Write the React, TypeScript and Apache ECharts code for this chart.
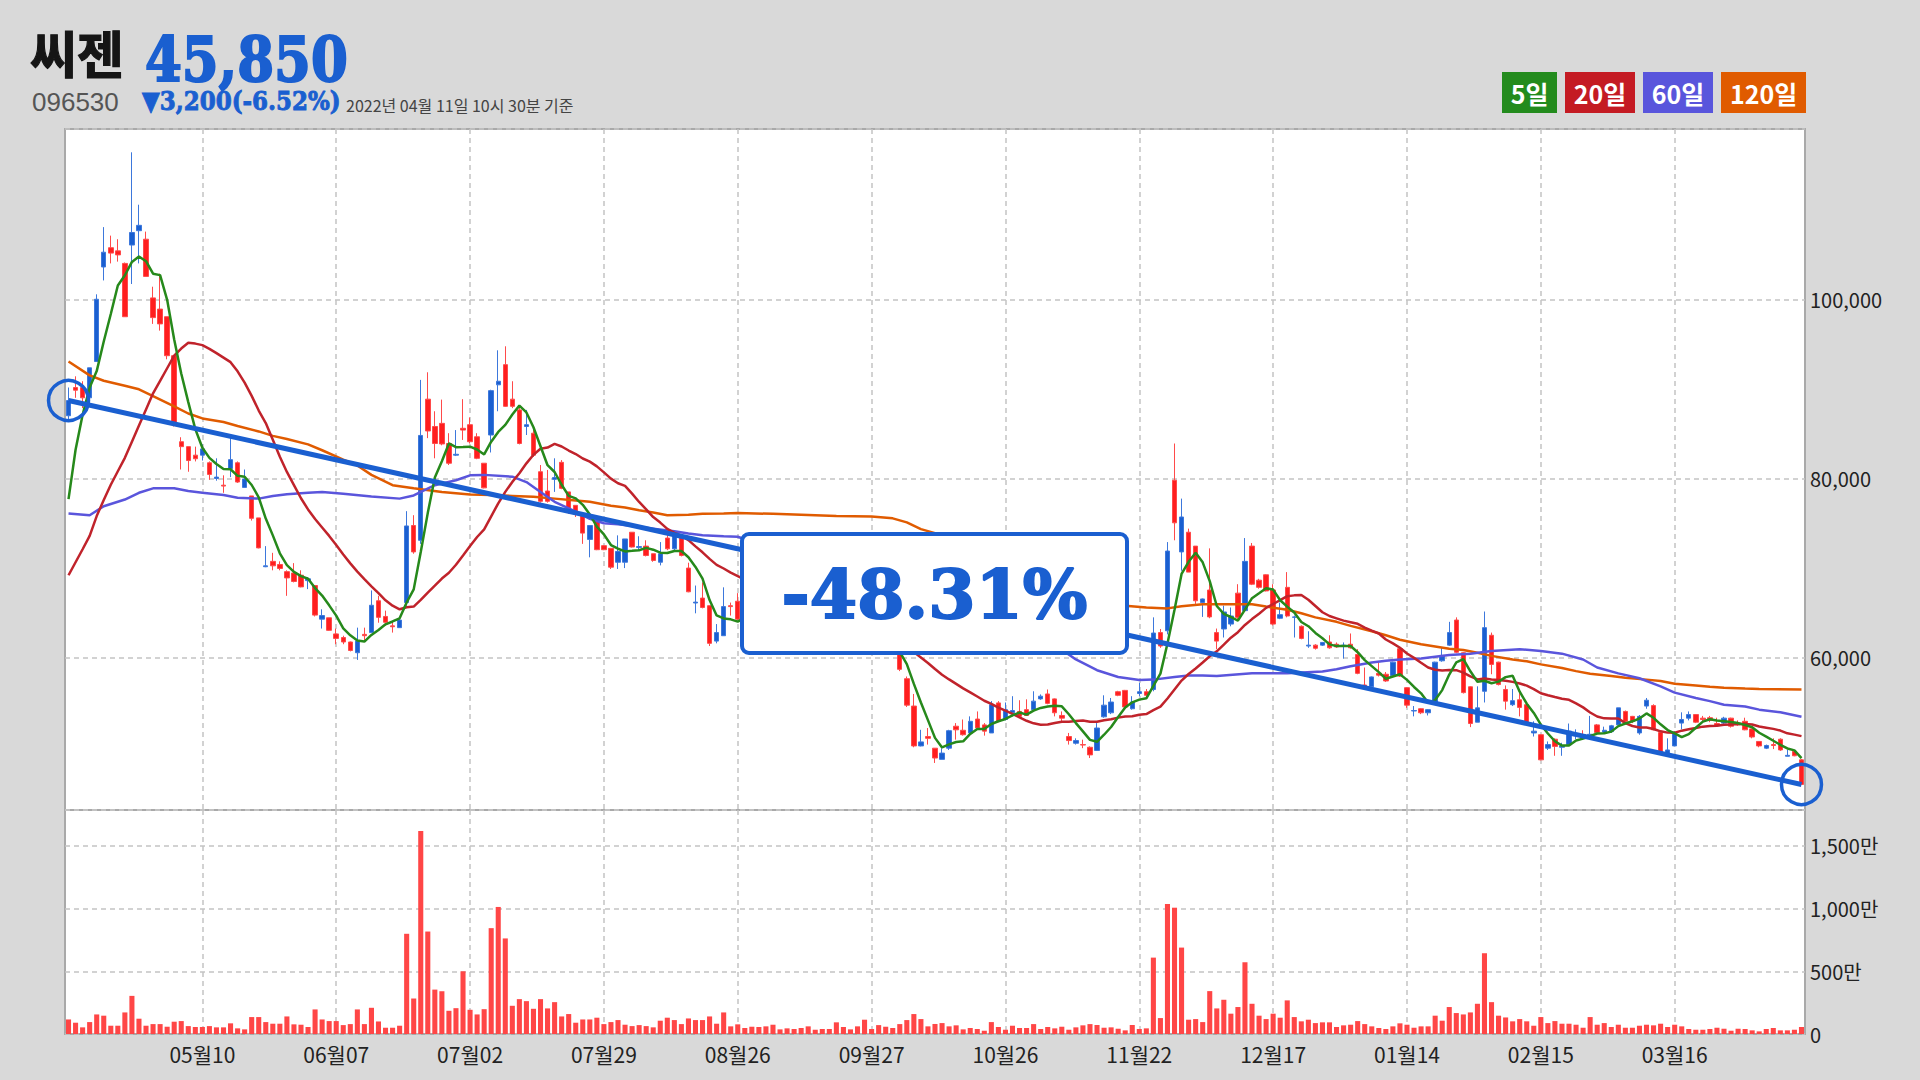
import React, { useEffect, useRef } from 'react';
import * as echarts from 'echarts';

// ---- tick labels (one every 19 trading days) ----
const TICK_STEP = 19;
const tickLabels = ['05월10', '06월07', '07월02', '07월29', '08월26', '09월27', '10월26', '11월22', '12월17', '01월14', '02월15', '03월16'];

// ---- daily OHLC (원) ----
const opens = [
  87000, 90150, 90150, 89000, 93050, 103600, 105750, 105400, 104000, 106050,
  107650, 106700, 100150, 98900, 98050, 93700, 84100, 83550, 82600, 82600,
  81750, 80000, 79250, 81100, 81750, 79000, 78050, 75600, 70150, 70750,
  70400, 69600, 69450, 69200, 68600, 68050, 64300, 64450, 62650, 62250,
  61750, 60550, 62600, 62800, 66350, 64600, 63550, 63350, 66150, 74750,
  73100, 88850, 85800, 86150, 83900, 82600, 85600, 86000, 84650, 81700,
  84850, 90450, 92700, 88850, 87650, 85800, 85050, 80750, 78600, 79900,
  81800, 78500, 77000, 76050, 73200, 75350, 72500, 72200, 70650, 70650,
  74000, 72300, 72450, 71600, 70650, 73350, 72150, 73550, 70000, 66100,
  66650, 65800, 61850, 62450, 65800, 66300, 64300, 63800, 64500, 63600,
  63900, 63200, 62700, 63100, 62400, 62000, 62300, 61800, 61500, 61900,
  61400, 61200, 61600, 61300, 61100, 61500, 61200, 61000, 60550, 57650,
  54600, 50150, 51200, 49900, 48650, 49900, 52350, 51900, 51600, 53150,
  52500, 51600, 54950, 53100, 53850, 54000, 54200, 54200, 55400, 55950,
  55400, 53550, 51200, 50450, 50300, 50000, 49650, 53400, 53850, 56200,
  56350, 54300, 56000, 56200, 56450, 62800, 63000, 79800, 71800, 74000,
  72450, 66150, 67550, 62800, 63200, 63750, 67200, 65250, 72450, 68650,
  69250, 67550, 64400, 67850, 64500, 63500, 61300, 61400, 61400, 61750,
  61500, 61350, 61500, 60350, 56950, 56750, 58250, 58150, 58000, 61000,
  56650, 54050, 54300, 53850, 55050, 59650, 61400, 64200, 60550, 56750,
  52800, 56250, 62500, 59500, 56450, 54750, 55300, 54750, 51600, 51400,
  49900, 50900, 50000, 50300, 51300, 51400, 51300, 52500, 51700, 51750,
  52500, 54000, 53450, 51600, 54600, 54650, 51650, 49300, 50150, 52700,
  53250, 53650, 53250, 53300, 52650, 52700, 53250, 52700, 52900, 52050,
  50650, 49900, 50300, 50900, 49000, 49550, 48600,
];
const closes = [
  88700, 89850, 89000, 92350, 100000, 105250, 105150, 104950, 98050, 107450,
  108250, 102550, 97950, 97250, 93700, 86100, 83550, 82000, 82200, 83300,
  80450, 80150, 79150, 82100, 79600, 79950, 75550, 72250, 70250, 70250,
  69950, 68900, 68500, 67900, 68800, 64750, 64700, 63050, 62150, 61750,
  60800, 61850, 62450, 65850, 64500, 63950, 63450, 64200, 74700, 71800,
  84800, 85300, 83900, 83850, 81700, 82700, 85400, 84100, 82250, 78950,
  89800, 90850, 88050, 88050, 83900, 86000, 82600, 77450, 77450, 80100,
  78900, 76350, 76050, 73900, 74750, 72050, 72050, 70100, 71850, 73250,
  72350, 72400, 71400, 70850, 71600, 72150, 73550, 71400, 67350, 66200,
  65600, 61600, 62800, 65700, 65700, 64300, 63800, 64500, 63600, 63900,
  63200, 62700, 63100, 62400, 62000, 62300, 61800, 61500, 61900, 61400,
  61200, 61600, 61300, 61100, 61500, 61200, 61000, 60800, 58700, 54700,
  50150, 50600, 51000, 48800, 49350, 51850, 51950, 51400, 52900, 52150,
  51800, 54750, 52900, 54200, 54100, 53450, 53550, 55150, 55700, 54900,
  53850, 53250, 50750, 50750, 50250, 49150, 52150, 54700, 55050, 55800,
  54500, 55050, 56200, 55800, 62750, 61300, 71900, 75050, 75700, 69550,
  66350, 66550, 64550, 61850, 65100, 64650, 64500, 70750, 68200, 67850,
  67450, 63750, 64800, 64650, 64550, 62150, 61400, 61050, 61700, 61100,
  61200, 61400, 61100, 58250, 56700, 57850, 58050, 57400, 59500, 57950,
  54700, 54100, 53850, 54200, 59500, 60250, 62800, 60600, 56100, 52650,
  54400, 63350, 59250, 57000, 55150, 55200, 54450, 52550, 51800, 48600,
  50300, 50100, 50150, 51800, 51450, 51330, 51450, 51650, 51900, 52400,
  54400, 52900, 52900, 53450, 55250, 51950, 49250, 49700, 51650, 53100,
  53650, 52800, 53100, 53000, 52400, 53250, 52350, 52500, 51950, 51150,
  50150, 50200, 50200, 49700, 49100, 49050, 45850,
];
const lows = [
  86300, 89000, 87850, 88000, 93050, 102100, 104000, 104200, 98050, 101700,
  104000, 102550, 97250, 96500, 93300, 85800, 81000, 80750, 81900, 82000,
  79850, 79750, 78400, 80150, 79500, 79000, 75300, 72200, 70100, 69750,
  69750, 66900, 68400, 67850, 67650, 64600, 63250, 63000, 61500, 61500,
  60700, 59750, 61850, 62800, 63900, 63550, 62800, 63350, 65800, 71600,
  72700, 84500, 82250, 83700, 81500, 82500, 84300, 83900, 82150, 78900,
  82900, 87500, 88000, 87850, 83800, 84850, 82400, 77300, 77300, 78500,
  78800, 76050, 75700, 72700, 71200, 72000, 72000, 69900, 69900, 70000,
  72300, 71950, 71300, 70700, 70300, 72000, 71800, 71300, 67300, 64950,
  65500, 61300, 61600, 62450, 64700, 64200, 63400, 63500, 63300, 63200,
  63000, 62400, 62500, 62200, 61700, 61800, 61600, 61300, 61300, 61200,
  61000, 61000, 61100, 60900, 60900, 61000, 60800, 60700, 58500, 54500,
  50000, 50100, 50300, 48250, 48650, 49700, 50850, 51300, 51500, 52100,
  51300, 51600, 52800, 53000, 53450, 53400, 53500, 54100, 55300, 54800,
  53450, 52900, 50300, 50300, 49900, 48800, 49600, 53300, 53700, 55700,
  54400, 54200, 55700, 55400, 56250, 61100, 62600, 73100, 69700, 69550,
  66000, 64550, 64400, 60950, 62250, 63500, 64300, 65100, 68100, 67700,
  67400, 63600, 64300, 64500, 62250, 62050, 61100, 60900, 61300, 61000,
  61100, 59900, 61000, 58150, 56650, 56700, 57900, 57300, 57900, 57850,
  54400, 53450, 53700, 53550, 55000, 59550, 61300, 60500, 56000, 52250,
  52800, 55000, 58150, 56900, 54200, 54600, 53450, 52450, 51200, 48550,
  49700, 49050, 49050, 50200, 50900, 50900, 51000, 51600, 51500, 51600,
  52400, 52800, 52700, 51400, 54300, 51900, 49200, 49200, 50100, 52000,
  53000, 52700, 52900, 52800, 52300, 52600, 52200, 52400, 51900, 51000,
  50000, 49800, 49800, 49600, 49000, 49000, 45800,
];
const highs = [
  90150, 91400, 90850, 92350, 100550, 108050, 107100, 106700, 104100, 116400,
  110550, 107550, 101400, 102850, 98050, 93700, 84600, 83550, 83550, 83800,
  81900, 82250, 80350, 84600, 81900, 81000, 78050, 75600, 72450, 71700,
  70750, 69750, 70550, 69750, 69000, 68050, 65400, 64450, 63250, 62450,
  61800, 63350, 63350, 67500, 66900, 65250, 63950, 64300, 76350, 75900,
  91000, 91850, 87500, 88800, 85050, 85400, 88850, 86800, 85050, 81700,
  89900, 94300, 94750, 90850, 88050, 87650, 85600, 81500, 80950, 82250,
  82050, 78500, 77000, 76050, 74750, 75350, 72550, 72200, 73650, 73250,
  74000, 73550, 73100, 71600, 72900, 73700, 73550, 73550, 70600, 68050,
  68400, 65800, 63750, 67850, 66150, 67200, 64900, 65000, 64700, 64300,
  64200, 63500, 63600, 63300, 62700, 62800, 62500, 62100, 62200, 62100,
  61700, 61900, 61800, 61600, 61800, 61700, 61400, 61200, 61300, 57900,
  55950, 51950, 52150, 49900, 49900, 51950, 52700, 53100, 53450, 54000,
  52700, 55150, 55150, 55000, 55700, 55250, 55350, 56250, 55900, 56450,
  55450, 54000, 51600, 51000, 50850, 50100, 52700, 55800, 55500, 56300,
  56400, 55700, 57200, 56500, 64500, 63200, 72900, 83900, 77750, 74400,
  72450, 66600, 72200, 63250, 65800, 65600, 68200, 73350, 72800, 68800,
  69300, 68200, 66150, 69550, 64700, 63600, 62950, 61500, 61750, 62500,
  61700, 61700, 62700, 60950, 58900, 57900, 59450, 58400, 59550, 61100,
  56700, 54600, 54350, 54250, 59550, 61100, 64000, 64500, 60600, 56800,
  56800, 65150, 62800, 59550, 56900, 56500, 56050, 54800, 52900, 51450,
  50650, 51000, 50500, 52650, 52000, 51900, 53500, 52600, 52300, 52500,
  54400, 54100, 53500, 53600, 55500, 54800, 51700, 51000, 51800, 53900,
  54000, 53700, 53500, 53500, 53300, 53400, 53300, 53000, 53300, 52100,
  50700, 50300, 51000, 51000, 49700, 49600, 48700,
];

// ---- volume (만 주) ----
const volumes = [
  116, 90, 53, 95, 156, 146, 66, 66, 172, 304,
  122, 66, 79, 79, 58, 98, 103, 63, 56, 56,
  63, 53, 53, 85, 45, 37, 135, 135, 95, 82,
  82, 140, 77, 74, 56, 196, 116, 103, 103, 71,
  79, 196, 79, 209, 100, 50, 50, 66, 799, 283,
  1619, 817, 354, 341, 185, 206, 500, 193, 156, 198,
  844, 1013, 762, 225, 278, 262, 201, 278, 204, 254,
  140, 159, 90, 116, 116, 130, 79, 95, 111, 74,
  63, 71, 63, 53, 106, 130, 111, 79, 124, 111,
  111, 140, 82, 172, 61, 77, 48, 58, 56, 61,
  74, 37, 45, 40, 48, 61, 34, 40, 40, 93,
  56, 37, 61, 114, 40, 71, 58, 48, 79, 111,
  159, 119, 61, 80, 87, 61, 69, 37, 48, 40,
  26, 95, 56, 34, 66, 48, 48, 79, 40, 56,
  45, 58, 34, 53, 69, 79, 72, 50, 53, 42,
  29, 72, 40, 45, 609, 127, 1036, 1007, 689, 114,
  119, 95, 342, 204, 273, 162, 215, 572, 241, 146,
  119, 162, 130, 268, 135, 101, 114, 87, 93, 93,
  56, 69, 74, 103, 79, 61, 48, 40, 61, 85,
  74, 50, 61, 61, 146, 106, 215, 167, 156, 172,
  241, 644, 254, 146, 132, 101, 119, 101, 66, 135,
  87, 103, 82, 82, 74, 50, 135, 74, 87, 56,
  74, 50, 50, 66, 74, 69, 82, 56, 74, 61,
  40, 34, 34, 40, 50, 42, 26, 42, 40, 29,
  21, 40, 48, 29, 29, 34, 56,
];

// ---- moving averages: values read at the start (before enough history) ----
const ma5Head = [77700, 83200, 87100, 90150];
const ma20Head = [69200, 70650, 72100, 73600, 75800, 77600, 79300, 80800, 82300, 84100, 85900, 87700, 89500, 90900, 92300, 93700, 94500, 95150, 95050];
// 60일 / 120일 lines at these trading-day indices
const ma60Points: [number, number][] = [
  [0, 76100], [3, 75900], [5, 76900], [8, 77650], [10, 78400], [12, 78900], [15, 78900], [17, 78600], [19, 78400], [22, 78150],
  [24, 77850], [27, 77750], [29, 78050], [31, 78250], [34, 78400], [36, 78500], [39, 78300], [43, 78000], [47, 77750], [49, 78100],
  [52, 79250], [55, 79800], [57, 80350], [59, 80400], [63, 80200], [65, 79600], [67, 78500], [69, 77400], [72, 76300], [74, 75500],
  [76, 75000], [78, 74900], [81, 74600], [83, 74400], [86, 74100], [88, 73850], [90, 73650], [93, 73550], [95, 73500], [141, 60900],
  [143, 59800], [146, 58600], [149, 57850], [152, 57500], [154, 57550], [157, 57850], [159, 58000], [161, 58000], [163, 57950], [168, 58250],
  [173, 58250], [178, 58450], [180, 58700], [182, 59050], [185, 59450], [187, 59650], [189, 59800], [192, 59900], [194, 60100], [196, 60300],
  [199, 60450], [202, 60750], [206, 60950], [209, 60750], [212, 60450], [215, 59800], [217, 58900], [220, 58250], [223, 57700], [226, 56800],
  [228, 56100], [231, 55500], [233, 55150], [235, 54750], [238, 54550], [240, 54200], [243, 53900], [246, 53400],
];
const ma120Points: [number, number][] = [
  [0, 93050], [3, 91500], [5, 90900], [8, 90350], [10, 89950], [12, 89200], [15, 88050], [17, 87250], [19, 86700], [22, 86300],
  [24, 85850], [27, 85250], [29, 84750], [31, 84400], [34, 83800], [36, 83150], [39, 82100], [41, 81450], [43, 80400], [46, 79250],
  [49, 78900], [53, 78500], [57, 78200], [60, 78150], [63, 78050], [66, 77950], [69, 77750], [72, 77550], [74, 77400], [77, 76950],
  [79, 76750], [81, 76450], [83, 76200], [85, 75900], [88, 75950], [90, 76050], [93, 76100], [95, 76150], [100, 76050], [104, 75950],
  [109, 75800], [114, 75750], [117, 75550], [119, 75100], [121, 74350], [123, 73900], [150, 65800], [153, 65600], [156, 65500], [158, 65750],
  [161, 65950], [163, 65950], [168, 65950], [170, 65700], [173, 65350], [175, 64950], [177, 64500], [180, 64000], [182, 63550], [185, 62950],
  [187, 62500], [189, 62000], [192, 61500], [194, 61250], [196, 61000], [198, 60850], [200, 60550], [202, 60200], [205, 59800], [207, 59600],
  [209, 59250], [212, 58850], [214, 58500], [216, 58200], [219, 57950], [221, 57750], [224, 57550], [226, 57400], [228, 57100], [231, 56900],
  [233, 56750], [235, 56650], [238, 56550], [240, 56500], [246, 56450],
];

// ---- header texts ----
const stockName = '씨젠';
const stockCode = '096530';
const lastPrice = '45,850';
const changeText = '▼3,200(-6.52%)';
const timeText = '2022년 04월 11일 10시 30분 기준';
const periodChange = '-48.31%';
const legendItems = [
  { label: '5일', color: '#238b1d' },
  { label: '20일', color: '#c41b23' },
  { label: '60일', color: '#5955dc' },
  { label: '120일', color: '#e05b00' },
];

const BLUE = '#1a5fd0';
const RED = '#ff1e1e';
const KFONT = '"Noto Sans CJK KR", "Noto Sans", sans-serif';
const SERIF = '"DejaVu Serif", serif';

function movingAvg(src: number[], n: number, head: number[]): number[] {
  return src.map((_, i) => {
    if (i < n - 1) return head[i];
    let s = 0;
    for (let k = i - n + 1; k <= i; k++) s += src[k];
    return Math.round(s / n);
  });
}
function sparse(points: [number, number][], n: number): (number | null)[] {
  const arr: (number | null)[] = new Array(n).fill(null);
  points.forEach(([i, v]) => { arr[i] = v; });
  return arr;
}

function txt(x: number, y: number, text: string, font: string, fill: string, extra: any = {}, align = 'left') {
  return {
    type: 'text', x, y, z: 101, ...extra,
    style: {
      text, font, fill, align, verticalAlign: 'middle', textAlign: align, textVerticalAlign: 'middle',
      ...(extra.style || {}),
    },
  };
}

function buildOption() {
  const n = closes.length;
  const cats = closes.map((_, i) => String(i));
  const candle = closes.map((c, i) => [opens[i], c, lows[i], highs[i]]);
  const ma5 = movingAvg(closes, 5, ma5Head);
  const ma20 = movingAvg(closes, 20, ma20Head);
  const ma60 = sparse(ma60Points, n);
  const ma120 = sparse(ma120Points, n);
  const trend = closes.map((c, i) => (i === 0 || i === n - 1 ? c : null));
  const isTick = (i: number) => i > 0 && i % TICK_STEP === 0;
  const dashed = { type: [5, 4] as any, color: '#c4c4c4', width: 1.5 };
  const axisFont = { fontFamily: KFONT, fontSize: 20, color: '#222' };

  const legendX = [1502, 1565, 1643, 1721];
  const legendW = [55, 70, 70, 85];

  const graphic: any[] = [
    txt(30, 52, stockName, `bold 51px ${KFONT}`, '#151515', { style: { stroke: '#151515', lineWidth: 1.2, lineHeight: 46 } }),
    txt(145, 59, lastPrice, `bold 53px ${SERIF}`, BLUE, { scaleY: 1.18, style: { stroke: BLUE, lineWidth: 1.8 } }),
    txt(32, 101.5, stockCode, `26px "Liberation Sans", sans-serif`, '#555', { style: { lineHeight: 22 } }),
    txt(142, 101, changeText, `bold 23px ${SERIF}`, BLUE, { scaleY: 1.15, style: { stroke: BLUE, lineWidth: 0.8, lineHeight: 24 } }),
    txt(346, 104.5, timeText, `16px ${KFONT}`, '#444'),
    { type: 'rect', z: 100, shape: { x: 742, y: 534, width: 385, height: 119, r: 7 }, style: { fill: '#fff', stroke: BLUE, lineWidth: 4 } },
    txt(934.5, 594, periodChange, `bold 68px ${SERIF}`, BLUE, { style: { stroke: BLUE, lineWidth: 2 } }, 'center'),
  ];
  legendItems.forEach((it, k) => {
    graphic.push({ type: 'rect', z: 100, shape: { x: legendX[k], y: 72, width: legendW[k], height: 41 }, style: { fill: it.color } });
    graphic.push(txt(legendX[k] + legendW[k] / 2, 93, it.label, `bold 25px ${KFONT}`, '#fff', {}, 'center'));
  });

  return {
    animation: false,
    backgroundColor: '#d9d9d9',
    graphic,
    grid: [
      { left: 65, right: 115, top: 129, height: 681, show: true, backgroundColor: '#fff', borderColor: '#a9a9a9', borderWidth: 2 },
      { left: 65, right: 115, top: 810, height: 224, show: true, backgroundColor: '#fff', borderColor: '#a9a9a9', borderWidth: 2 },
    ],
    xAxis: [
      {
        type: 'category', gridIndex: 0, data: cats, boundaryGap: true,
        axisLine: { show: false }, axisTick: { show: false }, axisLabel: { show: false },
        splitLine: { show: true, interval: (i: number) => isTick(i), alignWithLabel: true, lineStyle: dashed },
      },
      {
        type: 'category', gridIndex: 1, data: cats, boundaryGap: true,
        axisLine: { show: false }, axisTick: { show: false },
        axisLabel: {
          show: true, interval: (i: number) => isTick(i), margin: 9, ...axisFont, fontSize: 21,
          formatter: (v: string) => { const i = Number(v); return isTick(i) ? tickLabels[i / TICK_STEP - 1] : ''; },
        },
        splitLine: { show: true, interval: (i: number) => isTick(i), alignWithLabel: true, lineStyle: dashed },
      },
    ],
    yAxis: [
      {
        type: 'value', gridIndex: 0, position: 'right', min: 43000, max: 119000, splitNumber: 4,
        axisLine: { show: false }, axisTick: { show: false },
        axisLabel: { ...axisFont, margin: 5, showMinLabel: false, showMaxLabel: false, formatter: (v: number) => v.toLocaleString('en-US') },
        splitLine: { show: true, lineStyle: dashed },
      },
      {
        type: 'value', gridIndex: 1, position: 'right', min: 0, max: 1786, splitNumber: 4,
        axisLine: { show: false }, axisTick: { show: false },
        axisLabel: { ...axisFont, margin: 5, showMaxLabel: false, formatter: (v: number) => (v === 0 ? '0' : v.toLocaleString('en-US') + '만') },
        splitLine: { show: true, lineStyle: dashed },
      },
    ],
    series: [
      {
        name: '거래량', type: 'bar', xAxisIndex: 1, yAxisIndex: 1, data: volumes, barWidth: '72%',
        itemStyle: { color: '#ff4646' }, z: 2,
      },
      {
        name: '씨젠', type: 'candlestick', xAxisIndex: 0, yAxisIndex: 0, data: candle, barWidth: '70%',
        itemStyle: { color: BLUE, color0: RED, borderColor: '#3d78dc', borderColor0: '#ff4a4a', borderWidth: 1 }, z: 2,
      },
      { name: '120일', type: 'line', data: ma120, connectNulls: true, showSymbol: false, symbol: 'none', lineStyle: { color: '#e05b00', width: 2.5 }, z: 3 },
      { name: '60일', type: 'line', data: ma60, connectNulls: true, showSymbol: false, symbol: 'none', lineStyle: { color: '#5a55dc', width: 2.5 }, z: 3 },
      { name: '20일', type: 'line', data: ma20, showSymbol: false, symbol: 'none', lineStyle: { color: '#c0232b', width: 2.5 }, z: 3 },
      { name: '5일', type: 'line', data: ma5, showSymbol: false, symbol: 'none', lineStyle: { color: '#26891b', width: 2.5 }, z: 3 },
      {
        name: 'trend', type: 'line', data: trend, connectNulls: true, clip: false,
        showSymbol: true, showAllSymbol: true, symbol: 'circle', symbolSize: 40,
        itemStyle: { color: 'rgba(255,255,255,0)', borderColor: BLUE, borderWidth: 3.5 },
        lineStyle: { color: BLUE, width: 5 }, z: 4,
      },
    ],
  };
}

export default function App() {
  const ref = useRef<HTMLDivElement>(null);
  useEffect(() => {
    if (!ref.current) return;
    const chart = echarts.init(ref.current, undefined, { renderer: 'svg' });
    chart.setOption(buildOption() as any);
    return () => chart.dispose();
  }, []);
  return <div ref={ref} style={{ position: 'fixed', left: 0, top: 0, width: 1920, height: 1080 }} />;
}
